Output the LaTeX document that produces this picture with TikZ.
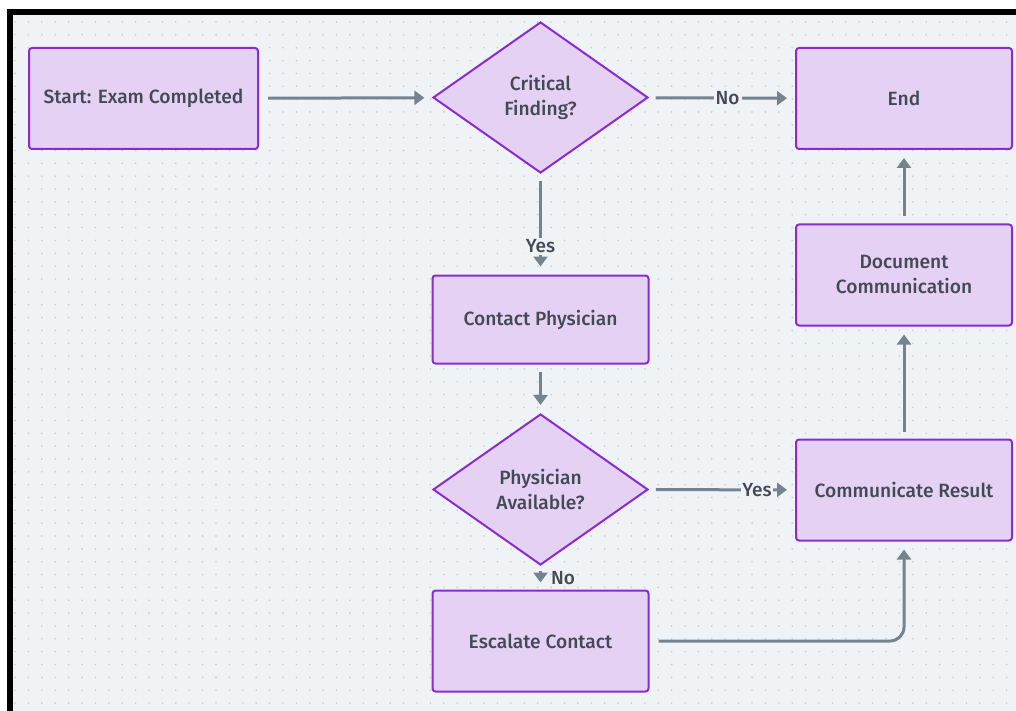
\documentclass[tikz,border=0pt]{standalone}
\usepackage{fontspec}
\setmainfont{Fira Sans}[UprightFont={* Medium}]
\usetikzlibrary{shapes.geometric,arrows.meta}
\definecolor{bgc}{HTML}{F0F3F6}
\definecolor{dotc}{HTML}{C6CCD3}
\definecolor{nodefill}{HTML}{E4D1F4}
\definecolor{nodeline}{HTML}{8A2BD2}
\definecolor{txt}{HTML}{434A56}
\definecolor{edgec}{HTML}{75838F}
\tikzset{
  box/.style={draw=nodeline, fill=nodefill, line width=2pt, rounded corners=3pt,
    minimum width=216pt, minimum height=101pt, inner sep=0pt, text=txt,
    font=\fontsize{19.2}{25}\selectfont, align=center},
  decision/.style={diamond, draw=nodeline, fill=nodefill, line width=2pt,
    minimum width=215pt, minimum height=151pt, inner sep=0pt, text=txt,
    font=\fontsize{19.2}{25}\selectfont, align=center},
  flow/.style={draw=edgec, line width=3pt, -{Triangle[length=10pt,width=14pt]},
    shorten <=7pt, shorten >=8pt},
  elabel/.style={fill=bgc, inner sep=2pt, text=txt, font=\fontsize{19}{20}\selectfont}
}
\begin{document}
\begin{tikzpicture}[x=1pt,y=-1pt]
\useasboundingbox (0,0) rectangle (1016,711);
\fill[white] (0,0) rectangle (1016,711);
\fill[black] (7,9) rectangle (1016,711);
\fill[bgc] (13,15) rectangle (1016,711);
\foreach \i in {0,...,74}{
  \foreach \j in {0,...,53}{
    \fill[dotc] ({15+\i*13.4},{22+\j*12.85}) circle (0.9);
  }
}
\node[box, minimum width=229pt] (start) at (143.5,98.5) {Start: Exam Completed};
\node[decision] (crit) at (540.5,97.5) {Critical\\Finding?};
\node[box] (end) at (904,98.5) {End};
\node[box, minimum height=88pt] (contact) at (540.5,319.5) {Contact Physician};
\node[decision] (avail) at (540.5,489.5) {Physician\\Available?};
\node[box] (esc) at (540.5,641) {Escalate Contact};
\node[box] (comm) at (904,490) {Communicate Result};
\node[box] (doc) at (904,275) {Document\\Communication};

\draw[flow, shorten <=9pt] (start) -- (crit);
\draw[flow] (crit) -- node[elabel, pos=0.54] (lno1) {No} (end);
\draw[flow] (crit) -- node[elabel, pos=0.72] (lyes1) {Yes} (contact);
\draw[flow] (contact) -- (avail);
\draw[flow] (avail) -- node[elabel, pos=0.74, inner xsep=1pt] (lyes2) {Yes} (comm);
\draw[flow, shorten <=5pt, shorten >=7pt] (avail) -- node[right, text=txt, inner sep=2pt, xshift=7pt, font=\fontsize{19}{20}\selectfont] (lno2) {No} (esc);
\draw[flow, rounded corners=14pt, shorten <=9pt] (esc.east) -| (comm.south);
\draw[flow] (comm) -- (doc);
\draw[flow] (doc) -- (end);
\end{tikzpicture}
\end{document}
